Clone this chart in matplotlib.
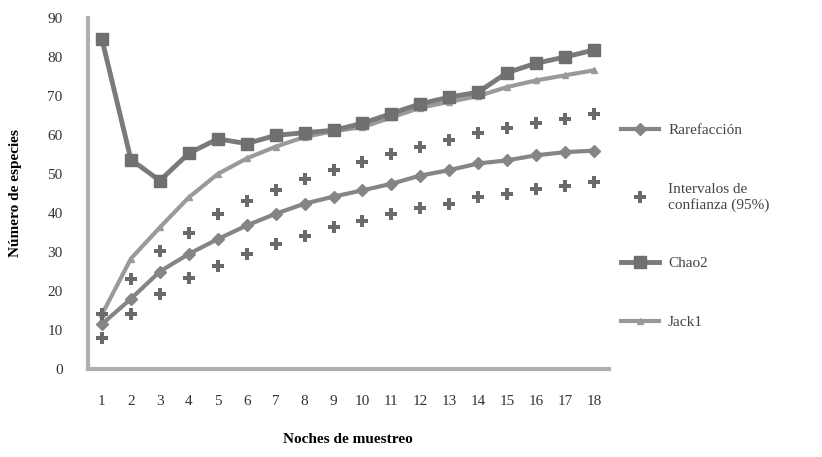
import matplotlib
matplotlib.use("Agg")
import matplotlib.pyplot as plt

nights = list(range(1, 19))
rarefaccion = [11.5, 18, 25, 29.5, 33.3, 36.8, 39.8, 42.4, 44.2, 45.8, 47.5, 49.6, 51, 52.7, 53.5, 54.8, 55.6, 56]
ic_upper = [14, 23, 30.3, 35, 39.8, 43.2, 45.8, 48.8, 51, 53, 55.2, 56.9, 58.6, 60.4, 61.7, 63, 64.2, 65.5]
ic_lower = [8, 14, 19.3, 23.4, 26.5, 29.6, 32, 34.2, 36.3, 38, 39.8, 41.4, 42.4, 44, 45, 46.2, 47, 47.9]
chao2 = [84.5, 53.7, 48.3, 55.3, 59, 57.8, 59.9, 60.6, 61.2, 63, 65.5, 68, 69.7, 71, 76, 78.4, 80, 81.8]
jack1 = [14, 28.3, 36.3, 44, 50, 54, 57, 59.5, 61, 62, 64.5, 67, 68.5, 70, 72.3, 74, 75.3, 76.6]
yticks = [0, 10, 20, 30, 40, 50, 60, 70, 80, 90]

plt.rcParams['font.family'] = ['Liberation Serif', 'DejaVu Serif']

fig = plt.figure(figsize=(8.22, 4.57), dpi=100)
ax = fig.add_axes([87.5/822, 1-369/457, 521/822, 351/457])

ax.plot(nights, rarefaccion, color='#858585', lw=3, marker='D', ms=6, mec='#858585', label='Rarefacción', zorder=3)
ax.plot(nights, ic_upper, ls='none', marker='P', ms=9, color='#6a6a6a', mew=0, label='Intervalos de\nconfianza (95%)', zorder=4)
ax.plot(nights, ic_lower, ls='none', marker='P', ms=9, color='#6a6a6a', mew=0, zorder=4)
ax.plot(nights, chao2, color='#7a7a7a', lw=3.5, marker='s', ms=8, mec='#6e6e6e', mfc='#707070', label='Chao2', zorder=3)
ax.plot(nights, jack1, color='#9a9a9a', lw=3, marker='^', ms=5, mec='#9a9a9a', label='Jack1', zorder=2)

ax.set_xlim(0.5, 18.5)
ax.set_ylim(0, 90)
ax.set_xticks(nights)
ax.set_xticklabels([str(n) for n in nights], fontsize=11, color='#333333')
ax.set_yticks(yticks)
ax.set_yticklabels([str(v) for v in yticks], fontsize=11, color='#333333')
ax.tick_params(axis='x', length=0, pad=19)
ax.tick_params(axis='y', length=0, pad=18)
for s in ['top', 'right']:
    ax.spines[s].set_visible(False)
for s in ['left', 'bottom']:
    ax.spines[s].set_color('#b0b0b0')
    ax.spines[s].set_linewidth(3)

ax.set_xlabel('Noches de muestreo', fontsize=11, fontweight='bold', labelpad=18)
ax.set_ylabel('Número de especies', fontsize=11, fontweight='bold', labelpad=18)

fig.legend(loc='upper left', bbox_to_anchor=(607/822, 1-110/457), frameon=False,
           fontsize=11, labelspacing=2.95, handlelength=2.5, handletextpad=0.6,
           labelcolor='#444444')

fig.savefig('out.png', dpi=100, facecolor='white')
